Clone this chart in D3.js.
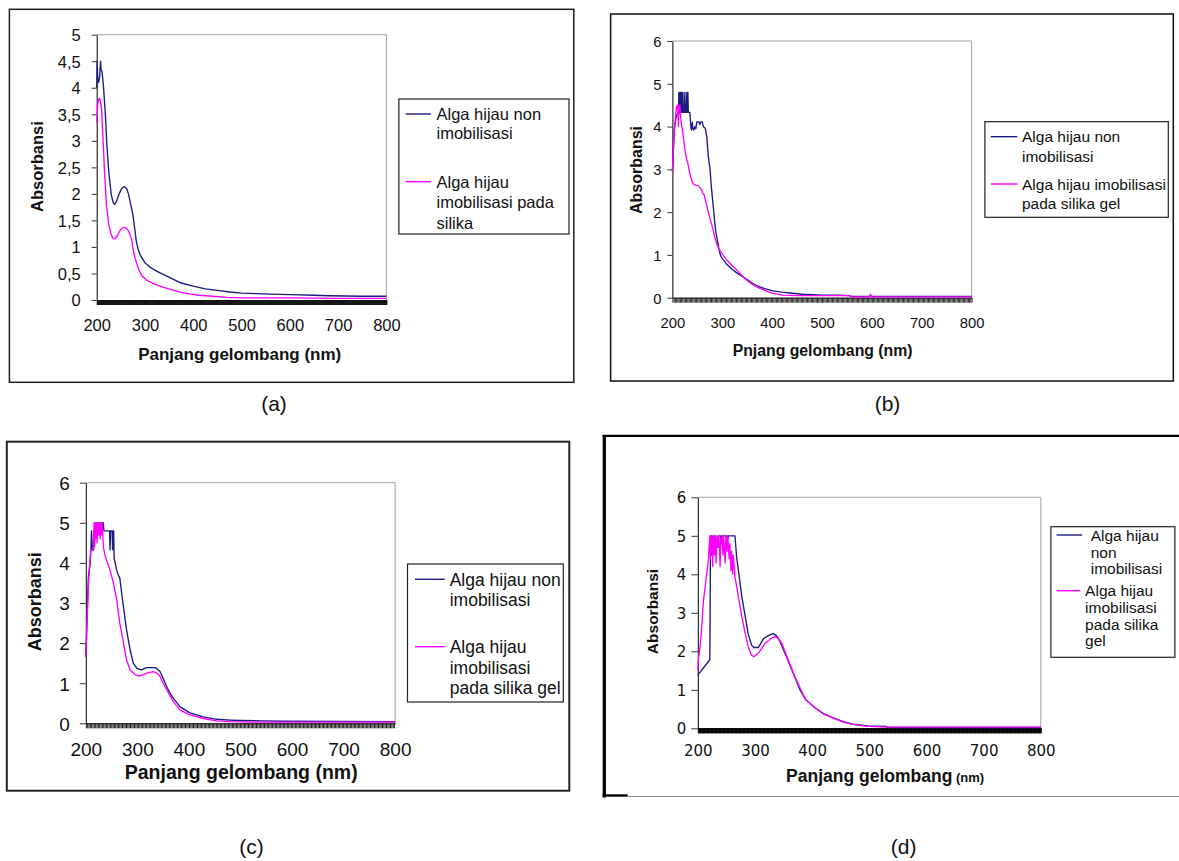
<!DOCTYPE html>
<html>
<head>
<meta charset="utf-8">
<script src="https://cdn.jsdelivr.net/npm/d3@7"></script>
<style>
  html, body { margin: 0; padding: 0; background: #fff; }
  svg { display: block; font-family: "Liberation Sans", Arial, sans-serif; }
</style>
</head>
<body>
<svg id="fig" width="1179" height="861"></svg>
<script>
// ---- Shared axis values -------------------------------------------------
const wavelengthTicks = [200, 300, 400, 500, 600, 700, 800];
const absorbTicksA = [0, 0.5, 1, 1.5, 2, 2.5, 3, 3.5, 4, 4.5, 5];
const absorbLabelsA = ["0", "0,5", "1", "1,5", "2", "2,5", "3", "3,5", "4", "4,5", "5"];
const absorbTicks = [0, 1, 2, 3, 4, 5, 6];
const absorbLabels = ["0", "1", "2", "3", "4", "5", "6"];
const panelLetters = ["(a)", "(b)", "(c)", "(d)"];

// ---- Spectra: [wavelength (nm), absorbance] ----------------------------
// (a)
const specA_non = [[200,4.0],[201,4.5],[202,4.2],[204,4.1],[206,4.2],[208,4.5],[209,4.35],[211,4.3],[214,4.03],[218,3.49],[221,2.93],[225,2.42],[230,1.99],[234,1.84],[237,1.80],[241,1.86],[246,1.99],[251,2.09],[257,2.14],[262,2.1],[266,1.99],[270,1.82],[275,1.61],[282,1.11],[286,0.95],[290,0.85],[300,0.70],[310,0.62],[325,0.54],[345,0.45],[375,0.32],[400,0.26],[425,0.21],[450,0.18],[475,0.15],[500,0.13],[530,0.12],[560,0.11],[600,0.10],[650,0.09],[680,0.08],[750,0.07],[800,0.07]];
const specA_imob = [[200,3.34],[202,3.7],[204,3.78],[206,3.8],[208,3.72],[210,3.62],[213,3.05],[216.5,2.36],[220,1.8],[225,1.42],[230,1.23],[234,1.16],[237,1.15],[242,1.2],[249,1.32],[254,1.36],[259,1.37],[264,1.33],[268,1.26],[272,1.15],[275,0.98],[279,0.8],[283.5,0.67],[288,0.55],[294,0.45],[304,0.37],[315,0.32],[328,0.27],[342,0.23],[360,0.18],[377,0.14],[395,0.11],[411,0.09],[440,0.07],[470,0.05],[500,0.04],[600,0.04],[700,0.03],[800,0.03]];
// (b)
const specB_non = [[200,2.95],[202,3.5],[204,3.95],[207,4.2],[210,4.3],[212,4.33],[213,4.8],[214,4.33],[215,4.8],[216,4.33],[217,4.8],[218,4.33],[219,4.8],[220,4.33],[221,4.8],[222,4.33],[224,4.33],[225,4.8],[226,4.33],[228,4.33],[229,4.8],[230,4.33],[231,4.8],[232,4.33],[235,4.33],[237,4.0],[238,3.92],[240,4.1],[241,3.95],[243,3.92],[245,4.0],[247,3.95],[249,4.11],[253,4.11],[255,4.05],[257,4.11],[260,4.11],[262,4.0],[264,3.98],[266,3.96],[269,3.76],[272,3.3],[275.5,3.0],[278,2.6],[282,2.13],[285,1.75],[287,1.55],[290,1.35],[292,1.22],[295,1.05],[298,0.95],[309,0.78],[320,0.66],[329,0.58],[340,0.5],[349,0.43],[360,0.34],[369,0.28],[385,0.21],[402,0.16],[420,0.13],[436,0.11],[460,0.08],[500,0.06],[530,0.06],[555,0.05],[558,0.03],[596,0.03],[597,0.07],[599,0.03],[700,0.03],[800,0.03]];
const specB_imob = [[200,2.95],[202,3.5],[204,3.9],[206,4.2],[208,4.45],[210,4.5],[211,4.4],[212,4.0],[213,4.5],[214,4.3],[215,4.5],[217,4.15],[221,3.84],[226,3.37],[231,3.14],[236,2.85],[241,2.67],[246,2.63],[251,2.62],[257,2.55],[261,2.44],[264,2.4],[267,2.24],[274,1.9],[281,1.62],[285,1.4],[290,1.22],[295,1.11],[302,0.99],[309,0.88],[319,0.76],[329,0.65],[339,0.52],[349,0.41],[362,0.3],[376,0.22],[390,0.15],[402,0.1],[422,0.06],[450,0.05],[500,0.05],[555,0.05],[560,0.02],[596,0.02],[597,0.08],[599,0.02],[700,0.02],[800,0.02]];
// (c)
const specC_non = [[200,1.66],[202,2.5],[205,3.66],[208,3.95],[210,4.32],[211,4.8],[213,4.32],[215,4.32],[216,4.82],[217,4.5],[218,5.0],[220,4.8],[221,5.0],[223,4.8],[224,5.0],[234,5.0],[235,4.8],[239,4.8],[246,4.8],[247,4.33],[248,4.8],[251,4.8],[252,4.33],[253,4.8],[254,4.8],[255,4.11],[257,4.0],[260,3.82],[263,3.7],[266,3.62],[270,3.2],[273,2.91],[279,2.33],[286,1.83],[292,1.5],[299,1.37],[308,1.33],[318,1.39],[334,1.39],[339,1.35],[344,1.29],[350,1.12],[357,0.91],[363,0.76],[370,0.62],[383,0.41],[402,0.26],[428,0.16],[454,0.10],[480,0.08],[500,0.07],[540,0.06],[580,0.05],[800,0.04]];
const specC_imob = [[200,1.66],[202,2.33],[205,3.41],[208,4.07],[210,4.32],[213,4.32],[215,4.4],[216,5.0],[217,4.4],[218,5.0],[219,4.6],[220,5.0],[222,4.5],[223,5.0],[225,4.7],[226,5.0],[228,4.6],[229,5.0],[231,4.7],[232,5.0],[234,4.4],[237,4.2],[240,4.07],[247,3.82],[253,3.53],[260,3.07],[266,2.49],[273,2.0],[279,1.58],[286,1.33],[296,1.21],[302,1.18],[310,1.2],[318,1.25],[331,1.29],[338,1.25],[344,1.17],[350,1.0],[357,0.83],[370,0.54],[383,0.33],[402,0.21],[428,0.12],[454,0.06],[480,0.04],[520,0.03],[800,0.03]];
// (d)
const specD_non = [[200,1.38],[221,1.78],[221.5,2.8],[222,4.2],[222.5,5.0],[224,4.5],[225,5.0],[227,4.6],[228,5.0],[231,4.7],[232,5.0],[235,4.7],[236,5.0],[240,5.0],[242,4.8],[243,5.0],[250,5.0],[252,4.8],[253,5.0],[265,5.0],[268,4.43],[271,4.11],[277,3.42],[283,2.9],[288,2.46],[294,2.16],[298,2.1],[306,2.1],[315,2.33],[325,2.42],[332,2.46],[338,2.4],[344,2.25],[355,1.86],[367,1.43],[379,0.99],[389,0.74],[406,0.52],[420,0.38],[439,0.26],[455,0.17],[471,0.11],[498,0.06],[530,0.05],[531,0.02],[800,0.02]];
const specD_imob = [[200,1.5],[201,1.78],[204,2.12],[206,2.46],[208,2.9],[210,3.33],[213,3.68],[215.5,4.02],[218,4.28],[220,4.72],[221,5.0],[222,4.4],[223,5.0],[224,4.6],[225,5.0],[226,4.2],[227,5.0],[229,4.5],[230,5.0],[232,4.3],[233,5.0],[236,4.7],[237,5.0],[239,4.2],[240,4.9],[242,5.0],[244,4.5],[245,5.0],[248,4.3],[249,5.0],[251,4.6],[252,5.0],[255,4.4],[256,4.8],[258,4.1],[259,4.6],[261,4.0],[262,4.5],[265,3.94],[271,3.42],[277,2.9],[283,2.46],[288,2.12],[294,1.9],[298,1.86],[306,1.95],[318,2.21],[328,2.33],[335,2.38],[341,2.33],[347,2.21],[358,1.78],[370,1.34],[382,0.95],[389,0.74],[406,0.52],[420,0.37],[439,0.25],[455,0.16],[471,0.10],[498,0.05],[530,0.03],[800,0.03]];

// ---- Legend texts (already broken into lines) ---------------------------
const legendA = [["Alga hijau non", "imobilisasi"], ["Alga hijau", "imobilisasi pada", "silika"]];
const legendB = [["Alga hijau non", "imobilisasi"], ["Alga hijau imobilisasi", "pada silika gel"]];
const legendC = [["Alga hijau non", "imobilisasi"], ["Alga hijau", "imobilisasi", "pada silika gel"]];
const legendD = [["Alga hijau", "non", "imobilisasi"], ["Alga hijau", "imobilisasi", "pada silika", "gel"]];

const seriesColors = ["#1b1b82", "#ff00ff"];

// ---- Panel layouts ------------------------------------------------------
const panels = [
  {
    id: "a", series: [specA_non, specA_imob], legend: legendA, letter: panelLetters[0],
    plot: { left: 96.7, right: 386.4, top: 34.7, bottom: 300 },
    yMax: 5, yTicks: absorbTicksA, yLabels: absorbLabelsA,
    tickFont: 16.5, tickFamily: "Liberation Sans", yTickSize: 5, yPad: 11, xLabelOffset: 25,
    minorStep: 1, minorColor: "#151515",
    xTitle: [{ t: "Panjang gelombang (nm)", size: 17 }], xTitlePos: [239.7, 354], xTitleAnchor: "middle",
    yTitle: { size: 16.5, x: 37.3, y: 166.5 },
    letterPos: [274, 403],
    legendBox: { x0: 398.9, y0: 99, x1: 569, y1: 234 },
    legendFont: 16.5, legendLine: [[405.6, 430.8, 114], [405.6, 430.8, 181.7]], legendTextX: [436.5, 436.5],
    legendRows: [[114, 133.5], [181.7, 202.3, 222.7]]
  },
  {
    id: "b", series: [specB_non, specB_imob], legend: legendB, letter: panelLetters[1],
    plot: { left: 672.4, right: 971.6, top: 41, bottom: 297.7 },
    yMax: 6, yTicks: absorbTicks, yLabels: absorbLabels,
    tickFont: 14.8, tickFamily: "Liberation Sans", yTickSize: 5, yPad: 6, xLabelOffset: 25,
    minorStep: 2.5, minorColor: "#2a2a2a",
    xTitle: [{ t: "Pnjang gelombang (nm)", size: 15.8 }], xTitlePos: [822.6, 350.5], xTitleAnchor: "middle",
    yTitle: { size: 16, x: 636.4, y: 170 },
    letterPos: [887.5, 403],
    legendBox: { x0: 984.9, y0: 121.7, x1: 1168.3, y1: 217.3 },
    legendFont: 15.5, legendLine: [[990.7, 1017.4, 136.7], [990.7, 1017.4, 184]], legendTextX: [1022, 1022],
    legendRows: [[136.7, 156], [184, 203.3]]
  },
  {
    id: "c", series: [specC_non, specC_imob], legend: legendC, letter: panelLetters[2],
    plot: { left: 85.8, right: 395.1, top: 482.7, bottom: 723.3 },
    yMax: 6, yTicks: absorbTicks, yLabels: absorbLabels,
    tickFont: 19, tickFamily: "Liberation Sans", yTickSize: 6, yPad: 10, xLabelOffset: 26,
    minorStep: 2.6, minorColor: "#1e1e1e",
    xTitle: [{ t: "Panjang gelombang (nm)", size: 19.5 }], xTitlePos: [241.2, 773.5], xTitleAnchor: "middle",
    yTitle: { size: 18, x: 34.8, y: 601.7 },
    letterPos: [251.4, 846.7],
    legendBox: { x0: 407.5, y0: 564, x1: 563.3, y1: 702 },
    legendFont: 17.5, legendLine: [[415, 444.8, 579.3], [415, 444.8, 646.7]], legendTextX: [449.7, 449.7],
    legendRows: [[579.3, 599.3], [646.7, 667.3, 687.7]]
  },
  {
    id: "d", series: [specD_non, specD_imob], legend: legendD, letter: panelLetters[3],
    plot: { left: 697.8, right: 1040.8, top: 497.3, bottom: 728.3 },
    yMax: 6, yTicks: absorbTicks, yLabels: absorbLabels,
    tickFont: 15, tickFamily: "DejaVu Sans", yTickSize: 6.4, yPad: 5, xLabelOffset: 22.4,
    minorStep: 1, minorColor: "#000",
    xTitle: [{ t: "Panjang gelombang", size: 17.5 }, { t: " (nm)", size: 13 }], xTitlePos: [786.1, 776.5], xTitleAnchor: "start",
    yTitle: { size: 15.5, x: 652.5, y: 611.5 },
    letterPos: [903.7, 846.7],
    legendBox: { x0: 1050.9, y0: 526.7, x1: 1174.9, y1: 657.3 },
    legendFont: 15.5, legendLine: [[1056.6, 1082.1, 535], [1056.6, 1080.2, 590.7]], legendTextX: [1090.7, 1085.1],
    legendRows: [[535, 552.3, 568.3], [590.7, 607.3, 624, 640.7]]
  }
];

const svg = d3.select("#fig");

// ---- Outer frames around each chart ------------------------------------
const frames = svg.append("g").attr("class", "frames").attr("fill", "none");
frames.append("rect").attr("x", 9.4).attr("y", 9.3).attr("width", 564.4).attr("height", 373)
  .attr("stroke", "#1e1e1e").attr("stroke-width", 1.5);
frames.append("rect").attr("x", 610.6).attr("y", 14).attr("width", 562.7).attr("height", 367)
  .attr("stroke", "#111").attr("stroke-width", 1.5);
frames.append("rect").attr("x", 6.8).attr("y", 441.7).attr("width", 562.5).attr("height", 349)
  .attr("stroke", "#222").attr("stroke-width", 2);
// (d) frame: heavy left rule, top rule, short dark foot and a light bottom rule
frames.append("path").attr("d", "M604.3,797.5 V435")
  .attr("stroke", "#000").attr("stroke-width", 3.3);
frames.append("path").attr("d", "M602.7,435.8 H1179")
  .attr("stroke", "#000").attr("stroke-width", 2.3);
frames.append("path").attr("d", "M602.7,795.5 H627.7")
  .attr("stroke", "#000").attr("stroke-width", 2.4);
frames.append("path").attr("d", "M627.7,796.5 H1179")
  .attr("stroke", "#8c8c8c").attr("stroke-width", 1);

// ---- One chart panel -----------------------------------------------------
function drawPanel(cfg) {
  const g = svg.append("g").attr("class", "panel-" + cfg.id);
  const x = d3.scaleLinear().domain([200, 800]).range([cfg.plot.left, cfg.plot.right]);
  const y = d3.scaleLinear().domain([0, cfg.yMax]).range([cfg.plot.bottom, cfg.plot.top]);

  // plot-area border (top and right edges)
  g.append("path")
    .attr("d", `M${x(200)},${y(cfg.yMax)}H${x(800)}V${y(0)}`)
    .attr("fill", "none").attr("stroke", "#a3a3a3").attr("stroke-width", 1);

  // dense category ticks hanging under the baseline
  const minorAxis = d3.axisBottom(x)
    .tickValues(d3.range(200, 800.01, cfg.minorStep))
    .tickSize(5).tickSizeOuter(0).tickFormat("");
  const gm = g.append("g").attr("transform", `translate(0,${y(0)})`).call(minorAxis);
  gm.selectAll(".tick line").attr("stroke", cfg.minorColor).attr("stroke-width", 1);
  gm.select(".domain").attr("stroke", "#000");

  // wavelength labels
  const labelAxis = d3.axisBottom(x).tickValues(wavelengthTicks).tickSize(0).tickFormat(d3.format("d"));
  const gx = g.append("g").attr("transform", `translate(0,${y(0)})`).call(labelAxis)
    .attr("font-size", cfg.tickFont).attr("font-family", cfg.tickFamily);
  gx.select(".domain").remove();
  gx.selectAll("text").attr("y", cfg.xLabelOffset).attr("dy", "0.36em").attr("fill", "#111");

  // absorbance axis
  const yAxis = d3.axisLeft(y).tickValues(cfg.yTicks)
    .tickSize(cfg.yTickSize).tickPadding(cfg.yPad).tickSizeOuter(0)
    .tickFormat((d, i) => cfg.yLabels[i]);
  const gy = g.append("g").attr("transform", `translate(${x(200)},0)`).call(yAxis)
    .attr("font-size", cfg.tickFont).attr("font-family", cfg.tickFamily);
  gy.select(".domain").attr("stroke", "#000");
  gy.selectAll(".tick line").attr("stroke", "#333");
  gy.selectAll("text").attr("dy", "0.36em").attr("fill", "#111");

  // spectra
  const line = d3.line().x(d => x(d[0])).y(d => y(d[1]));
  cfg.series.forEach((s, i) => {
    g.append("path").datum(s).attr("d", line)
      .attr("fill", "none").attr("stroke", seriesColors[i])
      .attr("stroke-width", 1.35).attr("stroke-linejoin", "round");
  });

  // axis titles
  const xt = g.append("text")
    .attr("x", cfg.xTitlePos[0]).attr("y", cfg.xTitlePos[1]).attr("dy", "0.36em")
    .attr("text-anchor", cfg.xTitleAnchor).attr("font-weight", "bold").attr("fill", "#111");
  cfg.xTitle.forEach(part => xt.append("tspan").attr("font-size", part.size).text(part.t));

  g.append("text")
    .attr("transform", `translate(${cfg.yTitle.x},${cfg.yTitle.y}) rotate(-90)`)
    .attr("dy", "0.36em").attr("text-anchor", "middle")
    .attr("font-weight", "bold").attr("font-size", cfg.yTitle.size).attr("fill", "#111")
    .text("Absorbansi");

  // legend
  const lb = cfg.legendBox;
  const lg = g.append("g").attr("class", "legend");
  lg.append("rect").attr("x", lb.x0).attr("y", lb.y0)
    .attr("width", lb.x1 - lb.x0).attr("height", lb.y1 - lb.y0)
    .attr("fill", "none").attr("stroke", "#222").attr("stroke-width", 1.2);
  cfg.legend.forEach((rows, i) => {
    const [lx0, lx1, ly] = cfg.legendLine[i];
    lg.append("line").attr("x1", lx0).attr("x2", lx1).attr("y1", ly).attr("y2", ly)
      .attr("stroke", seriesColors[i]).attr("stroke-width", 1.4);
    rows.forEach((r, j) => {
      lg.append("text").attr("x", cfg.legendTextX[i]).attr("y", cfg.legendRows[i][j])
        .attr("dy", "0.36em").attr("font-size", cfg.legendFont).attr("fill", "#111").text(r);
    });
  });

  // panel letter
  g.append("text").attr("x", cfg.letterPos[0]).attr("y", cfg.letterPos[1]).attr("dy", "0.36em")
    .attr("text-anchor", "middle").attr("font-size", 21).attr("fill", "#111").text(cfg.letter);
}

panels.forEach(drawPanel);
</script>
</body>
</html>
